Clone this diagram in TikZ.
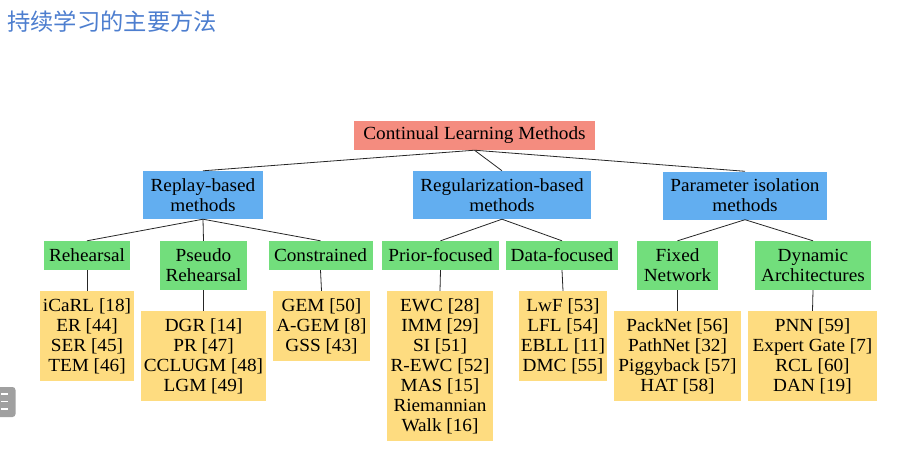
\documentclass[tikz,border=0pt]{standalone}
\usepackage{fontspec}
\setmainfont{Liberation Serif}[FakeStretch=1.04]
\newfontfamily\cjk{Noto Sans CJK SC}
\definecolor{rootc}{HTML}{F48C7F}
\definecolor{midc}{HTML}{62AEF0}
\definecolor{subc}{HTML}{72DE7C}
\definecolor{leafc}{HTML}{FEDC80}
\definecolor{titlec}{HTML}{4D7ECF}
\definecolor{iconc}{HTML}{A0A0A0}
\begin{document}
\begin{tikzpicture}[x=1pt,y=-1pt,
  box/.style={inner sep=0pt, align=center, text=black, font=\fontsize{18.5}{20}\selectfont},
  rootbox/.style={box, fill=rootc},
  midbox/.style={box, fill=midc},
  subbox/.style={box, fill=subc},
  leafbox/.style={box, fill=leafc},
  edge/.style={draw=black!85, line width=0.8pt}]
\useasboundingbox (0,0) rectangle (907,458);
% title
\node[anchor=west, inner sep=0pt, text=titlec, font=\cjk\fontsize{23.3}{26}\selectfont] (title) at (7,22) {持续学习的主要方法};
% icon at left edge
\fill[iconc, rounded corners=3pt] (-6,387) rectangle (15.5,417);
\foreach \yy in {394,401.5,409} { \draw[white, line width=1.8pt] (1,\yy) -- (8,\yy); }
% root
\node[rootbox, minimum width=241, minimum height=29] (root) at (474.5,135.5) {Continual Learning Methods};
% level 2
\node[midbox, minimum width=120, minimum height=48] (replay) at (203,195) {Replay-based\\methods};
\node[midbox, minimum width=178, minimum height=48] (reg) at (502,195) {Regularization-based\\methods};
\node[midbox, minimum width=164, minimum height=48] (param) at (745,195.5) {Parameter isolation\\methods};
% level 3
\node[subbox, minimum width=86, minimum height=29] (reh) at (87,255.5) {Rehearsal};
\node[subbox, minimum width=87, minimum height=49] (pseudo) at (203.5,265.5) {Pseudo\\Rehearsal};
\node[subbox, minimum width=104, minimum height=29] (cons) at (320.5,255.5) {Constrained};
\node[subbox, minimum width=117, minimum height=29] (prior) at (440.5,255.5) {Prior-focused};
\node[subbox, minimum width=112, minimum height=29] (data) at (562,255.5) {Data-focused};
\node[subbox, minimum width=81, minimum height=49] (fixed) at (677.5,265.5) {Fixed\\Network};
\node[subbox, minimum width=116, minimum height=49] (dyn) at (813,265.5) {Dynamic\\Architectures};
% leaves
\node[leafbox, minimum width=94, minimum height=90] (lreh) at (87,336) {iCaRL [18]\\ER [44]\\SER [45]\\TEM [46]};
\node[leafbox, minimum width=125, minimum height=90] (lpseudo) at (203.5,356) {DGR [14]\\PR [47]\\CCLUGM [48]\\LGM [49]};
\node[leafbox, minimum width=97, minimum height=70] (lcons) at (321.5,326) {GEM [50]\\A-GEM [8]\\GSS [43]};
\node[leafbox, minimum width=106, minimum height=150] (lprior) at (440,366) {EWC [28]\\IMM [29]\\SI [51]\\R-EWC [52]\\MAS [15]\\Riemannian\\Walk [16]};
\node[leafbox, minimum width=88, minimum height=90] (ldata) at (563,336) {LwF [53]\\LFL [54]\\EBLL [11]\\DMC [55]};
\node[leafbox, minimum width=127, minimum height=90] (lfixed) at (677.5,356) {PackNet [56]\\PathNet [32]\\Piggyback [57]\\HAT [58]};
\node[leafbox, minimum width=129, minimum height=90] (ldyn) at (812.5,356) {PNN [59]\\Expert Gate [7]\\RCL [60]\\DAN [19]};
% edges
\foreach \a/\b in {root/replay, root/reg, root/param,
  replay/reh, replay/pseudo, replay/cons,
  reg/prior, reg/data,
  param/fixed, param/dyn,
  reh/lreh, pseudo/lpseudo, cons/lcons, prior/lprior, data/ldata, fixed/lfixed, dyn/ldyn}
  { \draw[edge] (\a.south) -- (\b.north); }
\end{tikzpicture}
\end{document}
